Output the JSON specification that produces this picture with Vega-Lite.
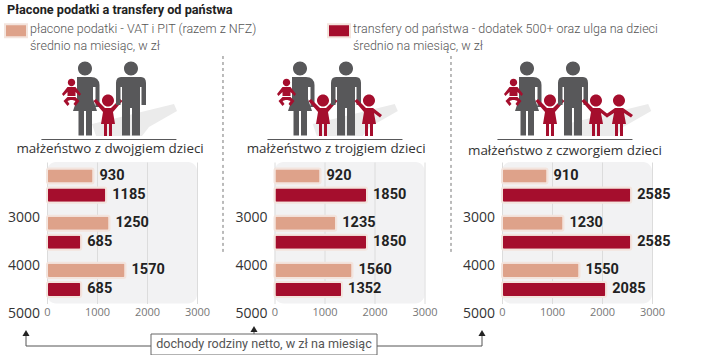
{
"$schema":"https://vega.github.io/schema/vega-lite/v6.json",
"padding":{"left":4,"top":4,"right":0,"bottom":0},
"title":{"text":"Płacone podatki a transfery od państwa","anchor":"start","frame":"group","dx":-40,"font":"Roboto","fontSize":12.7,"fontWeight":"bold","color":"#222","offset":3.5},
"config":{"view":{"stroke":null},"font":"Roboto"},
"datasets":{
"slupki":[
{"rodzina":"2","grupa":"a","seria":"płacone podatki - VAT i PIT (razem z NFZ)","wartosc":930},
{"rodzina":"2","grupa":"a","seria":"transfery od państwa - dodatek 500+ oraz ulga na dzieci","wartosc":1185},
{"rodzina":"2","grupa":"b","seria":"płacone podatki - VAT i PIT (razem z NFZ)","wartosc":1250},
{"rodzina":"2","grupa":"b","seria":"transfery od państwa - dodatek 500+ oraz ulga na dzieci","wartosc":685},
{"rodzina":"2","grupa":"c","seria":"płacone podatki - VAT i PIT (razem z NFZ)","wartosc":1570},
{"rodzina":"2","grupa":"c","seria":"transfery od państwa - dodatek 500+ oraz ulga na dzieci","wartosc":685},
{"rodzina":"3","grupa":"a","seria":"płacone podatki - VAT i PIT (razem z NFZ)","wartosc":920},
{"rodzina":"3","grupa":"a","seria":"transfery od państwa - dodatek 500+ oraz ulga na dzieci","wartosc":1850},
{"rodzina":"3","grupa":"b","seria":"płacone podatki - VAT i PIT (razem z NFZ)","wartosc":1235},
{"rodzina":"3","grupa":"b","seria":"transfery od państwa - dodatek 500+ oraz ulga na dzieci","wartosc":1850},
{"rodzina":"3","grupa":"c","seria":"płacone podatki - VAT i PIT (razem z NFZ)","wartosc":1560},
{"rodzina":"3","grupa":"c","seria":"transfery od państwa - dodatek 500+ oraz ulga na dzieci","wartosc":1352},
{"rodzina":"4","grupa":"a","seria":"płacone podatki - VAT i PIT (razem z NFZ)","wartosc":910},
{"rodzina":"4","grupa":"a","seria":"transfery od państwa - dodatek 500+ oraz ulga na dzieci","wartosc":2585},
{"rodzina":"4","grupa":"b","seria":"płacone podatki - VAT i PIT (razem z NFZ)","wartosc":1230},
{"rodzina":"4","grupa":"b","seria":"transfery od państwa - dodatek 500+ oraz ulga na dzieci","wartosc":2585},
{"rodzina":"4","grupa":"c","seria":"płacone podatki - VAT i PIT (razem z NFZ)","wartosc":1550},
{"rodzina":"4","grupa":"c","seria":"transfery od państwa - dodatek 500+ oraz ulga na dzieci","wartosc":2085}
],
"progi":[{"dochod":3000},{"dochod":4000},{"dochod":5000}],
"ludzie":[
{"rodzina":"2","glif":"cien","miejsce":2},
{"rodzina":"2","glif":"matka","miejsce":0},
{"rodzina":"2","glif":"niemowle","miejsce":-0.587},
{"rodzina":"2","glif":"dzieckoA","miejsce":1},
{"rodzina":"2","glif":"ojciec","miejsce":2},
{"rodzina":"2","glif":"kreska","miejsce":1.04},
{"rodzina":"3","glif":"cien","miejsce":2.25},
{"rodzina":"3","glif":"matka","miejsce":0},
{"rodzina":"3","glif":"niemowle","miejsce":-0.587},
{"rodzina":"3","glif":"dzieckoA","miejsce":1},
{"rodzina":"3","glif":"ojciec","miejsce":2},
{"rodzina":"3","glif":"dzieckoB","miejsce":3},
{"rodzina":"3","glif":"kreska","miejsce":1.52},
{"rodzina":"4","glif":"cien","miejsce":3.4},
{"rodzina":"4","glif":"matka","miejsce":0},
{"rodzina":"4","glif":"niemowle","miejsce":-0.587},
{"rodzina":"4","glif":"dzieckoA","miejsce":1},
{"rodzina":"4","glif":"ojciec","miejsce":2},
{"rodzina":"4","glif":"dzieckoB","miejsce":3},
{"rodzina":"4","glif":"dzieckoC","miejsce":4},
{"rodzina":"4","glif":"kreska","miejsce":1.65}
],
"podpisy":[
{"rodzina":"2","podpis":"małżeństwo z dwojgiem dzieci","miejsce":1.09},
{"rodzina":"3","podpis":"małżeństwo z trojgiem dzieci","miejsce":1.57},
{"rodzina":"4","podpis":"małżeństwo z czworgiem dzieci","miejsce":1.65}
]
},
"columns":3,
"align":"each",
"bounds":"flush",
"spacing":{"row":0,"column":77.5},
"concat":[
{"width":150,"height":106,"layer":[
{"data":{"name":"ludzie"},"transform":[{"filter":"datum.rodzina=='2'"}],"mark":{"type":"point","filled":true,"size":4,"opacity":1,"stroke":null},
"encoding":{"x":{"field":"miejsce","type":"quantitative","axis":null,"scale":{"domain":[-1.652,4.87],"nice":false,"zero":false}},
"shape":{"field":"glif","type":"nominal","legend":null,"scale":{"domain":["cien","matka","ojciec","dzieckoA","dzieckoB","dzieckoC","niemowle","kreska"],"range":[
"M-39,15L43,-5L46,2L18,18L11,27L-35,27Z",
"M-7,-40.5a7,7 0 1,0 14,0a7,7 0 1,0 -14,0ZM-8,-32L6,-32Q14,-32 14.5,-24L14.5,-2L10.5,-2L10.5,-22L8,-22L8,-10L12,2L7,2L7,26.5L1,26.5L1,2L-1,2L-1,26.5L-6.5,26.5L-6.5,2L-12,2L-8,-10Z",
"M-7,-40.5a7,7 0 1,0 14,0a7,7 0 1,0 -14,0ZM-10,-32H10Q15,-32 15,-26V-4H10.5V-22H9V26.5H1V-1H-1V26.5H-9V-22H-10.5V-4H-15V-26Q-15,-32 -10,-32Z",
"M-6,-8.5a6,6 0 1,0 12,0a6,6 0 1,0 -12,0ZM-3,-1L3,-1L12,-10L14.5,-8L5,3L7,15L4,15L4,27L1,27L1,15L-1,15L-1,27L-4,27L-4,15L-7,15L-5,3L-14.5,-8L-12,-10Z",
"M-6,-8.5a6,6 0 1,0 12,0a6,6 0 1,0 -12,0ZM-3,-1L4,-1L13,6L11,8.5L5,4L7,15L4,15L4,27L1,27L1,15L-1,15L-1,27L-4,27L-4,15L-7,15L-5,3L-14.5,-8L-12,-10Z",
"M-6,-8.5a6,6 0 1,0 12,0a6,6 0 1,0 -12,0ZM-4,-1L4,-1L14,6L12,8.5L5,4L7,15L4,15L4,27L1,27L1,15L-1,15L-1,27L-4,27L-4,15L-7,15L-5,4L-12,8.5L-14,6Z",
"M-3.7,-26.5a3.7,3.7 0 1,0 7.4,0a3.7,3.7 0 1,0 -7.4,0ZM-4,-22H4L9.5,-15L8,-13L4,-17V-13H-4V-17L-8,-13L-9.5,-15ZM-4,-12H4L8,-8L4,-3L2,-5L4,-8L1,-9H-1L-4,-8L-2,-5L-4,-3L-8,-8Z",
"M-67.5,30H67.5V31H-67.5Z"]}},
"fill":{"field":"glif","type":"nominal","legend":null,"scale":{"domain":["cien","matka","ojciec","dzieckoA","dzieckoB","dzieckoC","niemowle","kreska"],"range":["#ebebeb","#58585a","#58585a","#a50e2d","#a50e2d","#a50e2d","#a50e2d","#58585a"]}}}},
{"data":{"name":"podpisy"},"transform":[{"filter":"datum.rodzina=='2'"}],"mark":{"type":"text","dy":40,"font":"Open Sans","fontSize":13.4,"color":"#333"},
"encoding":{"x":{"field":"miejsce","type":"quantitative","axis":null,"scale":{"domain":[-1.652,4.87],"nice":false,"zero":false}},"text":{"field":"podpis"}}},
{"data":{"values":[{"linia":"przerywana"}]},"mark":{"type":"rule","color":"#777","strokeDash":[3,3],"strokeWidth":1},
"encoding":{"x":{"datum":6,"type":"quantitative","axis":null,"scale":{"domain":[-1.652,4.87],"nice":false,"zero":false}}}}
]},
{"width":150,"height":106,"layer":[
{"data":{"name":"ludzie"},"transform":[{"filter":"datum.rodzina=='3'"}],"mark":{"type":"point","filled":true,"size":4,"opacity":1,"stroke":null},
"encoding":{"x":{"field":"miejsce","type":"quantitative","axis":null,"scale":{"domain":[-1.109,5.413],"nice":false,"zero":false}},
"shape":{"field":"glif","type":"nominal","legend":null},
"fill":{"field":"glif","type":"nominal","legend":null}}},
{"data":{"name":"podpisy"},"transform":[{"filter":"datum.rodzina=='3'"}],"mark":{"type":"text","dy":40,"font":"Open Sans","fontSize":13.4,"color":"#333"},
"encoding":{"x":{"field":"miejsce","type":"quantitative","axis":null,"scale":{"domain":[-1.109,5.413],"nice":false,"zero":false}},"text":{"field":"podpis"}}},
{"data":{"values":[{"linia":"przerywana"}]},"mark":{"type":"rule","color":"#777","strokeDash":[3,3],"strokeWidth":1},
"encoding":{"x":{"datum":6.565,"type":"quantitative","axis":null,"scale":{"domain":[-1.109,5.413],"nice":false,"zero":false}}}}
]},
{"width":150,"height":106,"layer":[
{"data":{"name":"ludzie"},"transform":[{"filter":"datum.rodzina=='4'"}],"mark":{"type":"point","filled":true,"size":4,"opacity":1,"stroke":null},
"encoding":{"x":{"field":"miejsce","type":"quantitative","axis":null,"scale":{"domain":[-1.087,5.435],"nice":false,"zero":false}},
"shape":{"field":"glif","type":"nominal","legend":null},
"fill":{"field":"glif","type":"nominal","legend":null}}},
{"data":{"name":"podpisy"},"transform":[{"filter":"datum.rodzina=='4'"}],"mark":{"type":"text","dy":42,"font":"Open Sans","fontSize":13.4,"color":"#333"},
"encoding":{"x":{"field":"miejsce","type":"quantitative","axis":null,"scale":{"domain":[-1.087,5.435],"nice":false,"zero":false}},"text":{"field":"podpis"}}}
]},
{"width":150,"height":141.5,"view":{"fill":"#f2f2f3","cornerRadius":9,"stroke":null},"resolve":{"scale":{"y":"independent"}},"layer":[
{"data":{"name":"progi"},"mark":{"type":"text","align":"right","dx":-7,"font":"Open Sans","fontSize":14,"color":"#333"},
"encoding":{"x":{"datum":0,"type":"quantitative","scale":{"domain":[0,3000],"nice":false},"axis":{"values":[0,1000,2000,3000],"format":"d","title":null,"grid":true,"gridColor":"#dcdcdc","domain":false,"ticks":false,"labelPadding":3,"labelFont":"Open Sans","labelFontSize":11,"labelColor":"#777","labelFlush":false}},
"y":{"field":"dochod","type":"quantitative","scale":{"domain":[1823,4771],"nice":false,"zero":false,"reverse":true},"axis":null},"text":{"field":"dochod","type":"quantitative","format":"d"}}},
{"data":{"values":[{"linia":"przerywana"}]},"mark":{"type":"rule","color":"#777","strokeDash":[3,3],"strokeWidth":1},
"encoding":{"x":{"datum":3520,"type":"quantitative"},
"y":{"datum":1823,"type":"quantitative","axis":null},
"y2":{"datum":5000}}},
{"data":{"name":"slupki"},"transform":[{"filter":"datum.rodzina=='2'"}],"layer":[
{"mark":{"type":"bar","cornerRadius":2,"stroke":"#f3e4dd","strokeWidth":2},"encoding":{"color":{"field":"seria","type":"nominal","scale":{"domain":["płacone podatki - VAT i PIT (razem z NFZ)","transfery od państwa - dodatek 500+ oraz ulga na dzieci"],"range":["#dea28a","#a50e2d"]},
"legend":{"orient":"none","legendX":-43,"legendY":-35.5,"direction":"horizontal","columns":2,"columnPadding":67,"title":null,"symbolType":"M-1,-0.78H1V0.42H-1Z","symbolSize":484,"symbolStrokeColor":"#f3e4dd","symbolStrokeWidth":2,"symbolOpacity":1,"labelFont":"Roboto","labelFontWeight":300,"labelFontSize":12.5,"labelColor":"#555","labelLimit":400,"labelOffset":2,"labelBaseline":"alphabetic","labelExpr":"[datum.label,'średnio na miesiąc, w zł']","encode":{"labels":{"update":{"lineHeight":{"value":17}}}}}}}},
{"mark":{"type":"text","align":"left","dx":6,"font":"Roboto","fontWeight":"bold","fontSize":14.5,"color":"#222"},"encoding":{"text":{"field":"wartosc","type":"quantitative","format":"d"}}}
],"encoding":{"x":{"field":"wartosc","type":"quantitative","title":null,"scale":{"domain":[0,3000],"nice":false}},"y":{"field":"grupa","type":"nominal","axis":null,"scale":{"domain":["a","b","c"],"paddingInner":0,"paddingOuter":0}},"yOffset":{"field":"seria","scale":{"domain":["płacone podatki - VAT i PIT (razem z NFZ)","transfery od państwa - dodatek 500+ oraz ulga na dzieci"],"paddingInner":0.21,"paddingOuter":0.342}}}}
]},
{"width":150,"height":141.5,"view":{"fill":"#f2f2f3","cornerRadius":9,"stroke":null},"resolve":{"scale":{"y":"independent"}},"layer":[
{"data":{"name":"progi"},"mark":{"type":"text","align":"right","dx":-7,"font":"Open Sans","fontSize":14,"color":"#333"},
"encoding":{"x":{"datum":0,"type":"quantitative","scale":{"domain":[0,3000],"nice":false},"axis":{"values":[0,1000,2000,3000],"format":"d","title":null,"grid":true,"gridColor":"#dcdcdc","domain":false,"ticks":false,"labelPadding":3,"labelFont":"Open Sans","labelFontSize":11,"labelColor":"#777","labelFlush":false}},
"y":{"field":"dochod","type":"quantitative","scale":{"domain":[1823,4771],"nice":false,"zero":false,"reverse":true},"axis":null},"text":{"field":"dochod","type":"quantitative","format":"d"}}},
{"data":{"values":[{"linia":"przerywana"}]},"mark":{"type":"rule","color":"#777","strokeDash":[3,3],"strokeWidth":1},
"encoding":{"x":{"datum":3530,"type":"quantitative"},
"y":{"datum":1823,"type":"quantitative","axis":null},
"y2":{"datum":5000}}},
{"data":{"name":"slupki"},"transform":[{"filter":"datum.rodzina=='3'"}],"layer":[
{"mark":{"type":"bar","cornerRadius":2,"stroke":"#f3e4dd","strokeWidth":2},"encoding":{"color":{"field":"seria","type":"nominal"}}},
{"mark":{"type":"text","align":"left","dx":6,"font":"Roboto","fontWeight":"bold","fontSize":14.5,"color":"#222"},"encoding":{"text":{"field":"wartosc","type":"quantitative","format":"d"}}}
],"encoding":{"x":{"field":"wartosc","type":"quantitative","title":null,"scale":{"domain":[0,3000],"nice":false}},"y":{"field":"grupa","type":"nominal","axis":null,"scale":{"domain":["a","b","c"],"paddingInner":0,"paddingOuter":0}},"yOffset":{"field":"seria","scale":{"domain":["płacone podatki - VAT i PIT (razem z NFZ)","transfery od państwa - dodatek 500+ oraz ulga na dzieci"],"paddingInner":0.21,"paddingOuter":0.342}}}}
]},
{"width":150,"height":141.5,"view":{"fill":"#f2f2f3","cornerRadius":9,"stroke":null},"resolve":{"scale":{"y":"independent"}},"layer":[
{"data":{"name":"progi"},"mark":{"type":"text","align":"right","dx":-7,"font":"Open Sans","fontSize":14,"color":"#333"},
"encoding":{"x":{"datum":0,"type":"quantitative","scale":{"domain":[0,3000],"nice":false},"axis":{"values":[0,1000,2000,3000],"format":"d","title":null,"grid":true,"gridColor":"#dcdcdc","domain":false,"ticks":false,"labelPadding":3,"labelFont":"Open Sans","labelFontSize":11,"labelColor":"#777","labelFlush":false}},
"y":{"field":"dochod","type":"quantitative","scale":{"domain":[1823,4771],"nice":false,"zero":false,"reverse":true},"axis":null},"text":{"field":"dochod","type":"quantitative","format":"d"}}},
{"data":{"name":"slupki"},"transform":[{"filter":"datum.rodzina=='4'"}],"layer":[
{"mark":{"type":"bar","cornerRadius":2,"stroke":"#f3e4dd","strokeWidth":2},"encoding":{"color":{"field":"seria","type":"nominal"}}},
{"mark":{"type":"text","align":"left","dx":6,"font":"Roboto","fontWeight":"bold","fontSize":14.5,"color":"#222"},"encoding":{"text":{"field":"wartosc","type":"quantitative","format":"d"}}}
],"encoding":{"x":{"field":"wartosc","type":"quantitative","title":null,"scale":{"domain":[0,3000],"nice":false}},"y":{"field":"grupa","type":"nominal","axis":null,"scale":{"domain":["a","b","c"],"paddingInner":0,"paddingOuter":0}},"yOffset":{"field":"seria","scale":{"domain":["płacone podatki - VAT i PIT (razem z NFZ)","transfery od państwa - dodatek 500+ oraz ulga na dzieci"],"paddingInner":0.21,"paddingOuter":0.342}}}}
]},
{"width":150,"height":52,"data":{"values":[{"opis":"dochody rodziny netto, w zł na miesiąc"}]},
"layer":[
{"mark":{"type":"rule","color":"#555","strokeWidth":1},"encoding":{"x":{"datum":26,"type":"quantitative","axis":null,"scale":{"domain":[47,197],"nice":false,"zero":false}},"x2":{"datum":482},"y":{"datum":345,"type":"quantitative","axis":null,"scale":{"domain":[303,355],"nice":false,"zero":false,"reverse":true}}}},
{"mark":{"type":"rule","color":"#555","strokeWidth":1},"encoding":{"x":{"datum":26,"type":"quantitative","axis":null},"y":{"datum":332,"type":"quantitative","axis":null},"y2":{"datum":345}}},
{"mark":{"type":"rule","color":"#555","strokeWidth":1},"encoding":{"x":{"datum":254,"type":"quantitative","axis":null},"y":{"datum":328,"type":"quantitative","axis":null},"y2":{"datum":333}}},
{"mark":{"type":"rule","color":"#555","strokeWidth":1},"encoding":{"x":{"datum":482,"type":"quantitative","axis":null},"y":{"datum":332,"type":"quantitative","axis":null},"y2":{"datum":345}}},
{"mark":{"type":"point","shape":"triangle-up","filled":true,"color":"#222","size":50,"opacity":1},"encoding":{"x":{"datum":26,"type":"quantitative","axis":null},"y":{"datum":332,"type":"quantitative","axis":null}}},
{"mark":{"type":"point","shape":"triangle-up","filled":true,"color":"#222","size":50,"opacity":1},"encoding":{"x":{"datum":254,"type":"quantitative","axis":null},"y":{"datum":328,"type":"quantitative","axis":null}}},
{"mark":{"type":"point","shape":"triangle-up","filled":true,"color":"#222","size":50,"opacity":1},"encoding":{"x":{"datum":482,"type":"quantitative","axis":null},"y":{"datum":332,"type":"quantitative","axis":null}}},
{"mark":{"type":"rect","fill":"#fff","stroke":"#666","strokeWidth":1},"encoding":{"x":{"datum":151,"type":"quantitative","axis":null},"x2":{"datum":377},"y":{"datum":333,"type":"quantitative","axis":null},"y2":{"datum":354}}},
{"mark":{"type":"text","font":"Roboto","fontSize":12.6,"color":"#555"},"encoding":{"x":{"datum":264,"type":"quantitative","axis":null},"y":{"datum":343,"type":"quantitative","axis":null},"text":{"field":"opis"}}}
]}
]
}
